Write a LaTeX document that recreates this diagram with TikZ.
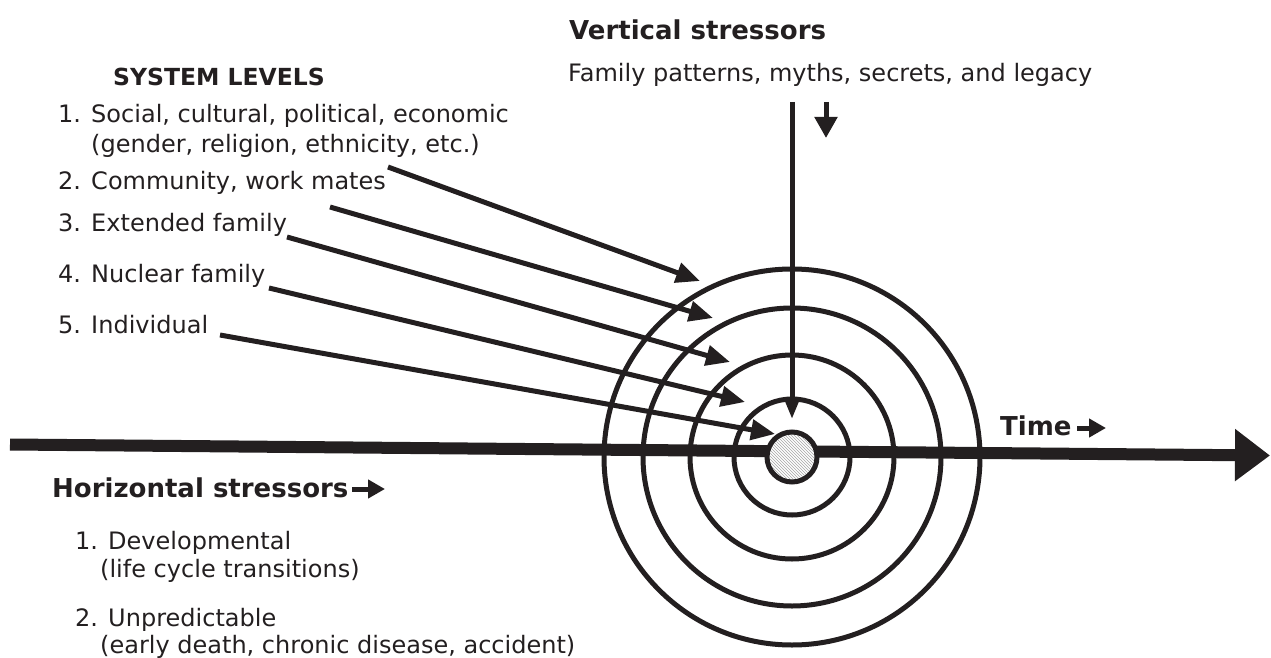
\documentclass[tikz,border=0pt]{standalone}
\usepackage{fontspec}
\setmainfont{DejaVu Sans}
\usetikzlibrary{arrows.meta,patterns}
\definecolor{ink}{RGB}{35,31,32}
\begin{document}
\begin{tikzpicture}[x=1pt,y=-1pt,
  txt/.style={anchor=base west,inner sep=0pt,text=ink,font=\fontsize{24}{28}\selectfont},
  hdr/.style={anchor=base west,inner sep=0pt,text=ink,font=\fontsize{26}{30}\selectfont\bfseries},
  ring/.style={circle,draw=ink,line width=5pt,inner sep=0pt},
  pointer/.style={draw=ink,line width=5pt,-{Triangle[length=24pt,width=20pt]}},
  smallarrow/.style={draw=ink,line width=5pt,-{Triangle[length=17pt,width=18pt]}},
]
\useasboundingbox (0,0) rectangle (1271,658);

% texts
\node[hdr] (vs) at (569,40) {Vertical stressors};
\node[txt] (fp) at (568,82) {Family patterns, myths, secrets, and legacy};
\node[hdr,font=\fontsize{23.5}{28}\selectfont\bfseries] (sl) at (113,86) {SYSTEM LEVELS};
\node[txt] (l1) at (58,123) {1. Social, cultural, political, economic};
\node[txt] (l1b) at (91,152) {(gender, religion, ethnicity, etc.)};
\node[txt] (l2) at (58,189) {2. Community, work mates};
\node[txt] (l3) at (58,231) {3. Extended family};
\node[txt] (l4) at (58,282) {4. Nuclear family};
\node[txt] (l5) at (58,333) {5. Individual};
\node[hdr] (hs) at (52,497) {Horizontal stressors};
\node[hdr] (tm) at (1000,435) {Time};
\node[txt] (h1) at (75,549) {1. Developmental};
\node[txt] (h1b) at (100,577) {(life cycle transitions)};
\node[txt] (h2) at (75,626) {2. Unpredictable};
\node[txt] (h2b) at (100,653) {(early death, chronic disease, accident)};

% rings
\coordinate (c) at (792,457);
\node[ring,minimum size=376pt] (r5) at (c) {};
\node[ring,minimum size=298pt] (r4) at (c) {};
\node[ring,minimum size=204pt] (r3) at (c) {};
\node[ring,minimum size=116pt] (r2) at (c) {};

% vertical stressor arrow
\coordinate (vtop) at (792,102);
\coordinate (vtip) at (792,419);
\draw[draw=ink,line width=5pt,-{Triangle[length=22pt,width=16pt]}] (vtop) -- (vtip);

% small arrows next to headings
\coordinate (sa1) at (826,102);
\coordinate (sa2) at (826,138);
\draw[draw=ink,line width=5pt,-{Triangle[length=21pt,width=22pt]}] (sa1) -- (sa2);
\coordinate (ta1) at (1077,428);
\coordinate (ta2) at (1106,428);
\draw[smallarrow] (ta1) -- (ta2);
\coordinate (ha1) at (352,489);
\coordinate (ha2) at (385,489);
\draw[smallarrow] (ha1) -- (ha2);

% pointer arrows
\coordinate (p1s) at (388,167); \coordinate (p1e) at (700,281);
\coordinate (p2s) at (330,207); \coordinate (p2e) at (713,318);
\coordinate (p3s) at (287,237); \coordinate (p3e) at (730,362);
\coordinate (p4s) at (269,288); \coordinate (p4e) at (745,402);
\coordinate (p5s) at (220,335); \coordinate (p5e) at (775,434);
\draw[pointer] (p1s) -- (p1e);
\draw[pointer] (p2s) -- (p2e);
\draw[pointer] (p3s) -- (p3e);
\draw[pointer] (p4s) -- (p4e);
\draw[pointer] (p5s) -- (p5e);

% time axis
\coordinate (tl) at (10,444.5);
\coordinate (tr) at (1270,455.5);
\draw[draw=ink,line width=12pt,-{Triangle[length=35pt,width=50pt]}] (tl) -- (tr);

% individual core
\node[ring,minimum size=50pt,preaction={fill=white},pattern=north west lines,pattern color=gray!70] (r1) at (c) {};
\end{tikzpicture}
\end{document}
